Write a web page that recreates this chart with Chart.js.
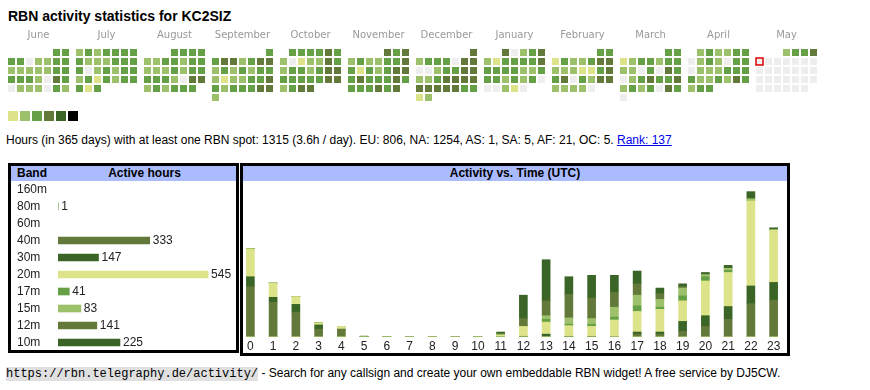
<!DOCTYPE html>
<html>
<head>
<meta charset="utf-8">
<script src="https://cdn.jsdelivr.net/npm/chart.js@4.4.1/dist/chart.umd.min.js"></script>
<style>
  body { margin: 0; background: #fff; font-family: Arial, "Liberation Sans", sans-serif; color: #000; }
  canvas, .box, .txt { position: absolute; }
  #title { left: 8px; top: 8px; font-size: 14px; font-weight: bold; line-height: 17px; }
  #summary { left: 6px; top: 133px; font-size: 12px; line-height: 14px; white-space: nowrap; }
  #summary a { color: #0000ee; }
  .box { border: 3px solid #000; }
  #bandBox { left: 8px; top: 163px; width: 225px; height: 184px; }
  #timeBox { left: 240px; top: 163px; width: 544px; height: 187px; }
  .hdr { position: absolute; left: 0; right: 0; top: 0; height: 15px; line-height: 15px;
         background: #aabbff; font-size: 12px; font-weight: bold; }
  .hdr span { position: absolute; top: 0; }
  #footer { left: 6px; top: 366px; font-size: 12px; line-height: 15px; white-space: nowrap; }
  #footer code { font-family: "Liberation Mono", "DejaVu Sans Mono", monospace; font-size: 12px; background: #e0e0e0; }
</style>
</head>
<body>
<div class="txt" id="title">RBN activity statistics for KC2SIZ</div>
<canvas id="cal" width="870" height="130" style="left:0;top:0"></canvas>
<div class="txt" id="summary">Hours (in 365 days) with at least one RBN spot: 1315 (3.6h / day). EU: 806, NA: 1254, AS: 1, SA: 5, AF: 21, OC: 5. <a href="#">Rank: 137</a></div>

<div class="box" id="bandBox">
  <div class="hdr"><span style="left:6px">Band</span><span style="left:42px;width:183px;text-align:center">Active hours</span></div>
</div>
<div class="box" id="timeBox">
  <div class="hdr" style="text-align:center">Activity vs. Time (UTC)</div>
</div>
<canvas id="bands" width="220" height="170" style="left:17px;top:181px"></canvas>
<canvas id="hours" width="546" height="174" style="left:239px;top:181px"></canvas>

<div class="txt" id="footer"><code>https://rbn.telegraphy.de/activity/</code> - Search for any callsign and create your own embeddable RBN widget! A free service by DJ5CW.</div>

<script>
// ---- calendar (one level per day, 0 = no spot) ----
const months = ['June', 'July', 'August', 'September', 'October', 'November',
                'December', 'January', 'February', 'March', 'April', 'May'];
const firstWeekday = [5, 0, 3, 6, 1, 4, 6, 2, 5, 5, 1, 3]; // Monday = 0
const dayLevels = [
  [3,3,3,3,0,2,2,3,3,2,2,2,2,2,3,3,3,3,3,2,0,4,3,0,2,2,2,0,3,2],
  [2,3,2,3,3,3,3,3,2,2,2,3,3,3,3,0,2,3,2,3,3,2,3,1,3,2,3,3,3,1,3],
  [3,3,3,3,2,2,3,3,2,3,3,2,2,2,3,2,3,3,3,3,3,2,0,4,4,2,3,2,3,3,3],
  [3,3,4,4,2,3,4,4,2,3,2,3,2,3,3,2,1,2,2,3,3,4,3,2,3,3,3,4,4,2],
  [3,3,3,3,4,3,2,0,1,2,2,4,3,2,3,3,2,3,4,4,3,3,3,3,3,4,4,2,3,4,4],
  [4,3,4,2,3,2,2,3,3,4,3,1,3,2,3,4,4,3,4,3,3,3,4,3,3,3,3,4,3,4],
  [4,2,3,3,3,0,4,4,0,0,2,3,3,4,4,2,2,3,4,4,4,4,4,4,4,4,4,3,3,1,2],
  [4,0,2,3,4,2,1,3,3,3,3,4,3,3,3,3,2,2,3,3,3,2,3,2,3,0,0,0,2,1,0],
  [3,3,1,3,2,2,3,4,4,2,2,2,1,1,3,4,3,4,0,3,2,4,4,2,2,2,2,0],
  [3,3,1,2,3,3,2,3,3,2,2,0,3,0,4,3,0,2,3,4,3,3,4,2,3,2,3,0,4,3,0],
  [2,3,2,2,3,3,0,2,3,2,0,3,3,0,2,2,2,3,3,3,3,2,2,3,2,4,3,2,3,3],
  [2,3,3,4,0,0,0,0,0,0,0,0,0,0,0,0,0,0,0,0,0,0,0,0,0,0,0,0,0,0,0]
];
const todayMonth = 11;
const todayDay = 5;
const legendLevels = [1, 2, 3, 4, 5, 6];

// ---- bands ----
const bands = ['160m', '80m', '60m', '40m', '30m', '20m', '17m', '15m', '12m', '10m'];
const bandHours = [0, 1, 0, 333, 147, 545, 41, 83, 141, 225];

// ---- activity per UTC hour, per band ----
const utcHours = ['0','1','2','3','4','5','6','7','8','9','10','11','12','13','14','15','16','17','18','19','20','21','22','23'];
const h160m = [0,0,0,0,0,0,0,0,0,0,0,0,0,0,0,0,0,0,0,0,0,0,0,0];
const h80m  = [0,0,0,0,0,1,0,0,0,0,0,0,0,0,0,0,0,0,0,0,0,0,0,0];
const h60m  = [0,0,0,0,0,0,0,0,0,0,0,0,0,0,0,0,0,0,0,0,0,0,0,0];
const h40m  = [71,49,35,11,11,0,0,0,0,0,0,0,0,1,0,0,0,4,4,8,15,25,47,52];
const h30m  = [14,7,11,6,0,0,0,0,0,0,0,0,1,3,1,1,0,3,3,14,15,18,25,25];
const h20m  = [39,20,11,3,4,0,0,0,0,0,0,3,14,17,15,14,24,29,32,29,49,48,120,74];
const h17m  = [0,0,0,0,0,0,0,0,0,0,0,1,0,4,2,3,4,8,3,7,6,3,0,0];
const h15m  = [1,0,0,0,0,0,0,0,0,0,0,0,0,5,9,8,14,15,11,11,3,3,3,0];
const h12m  = [0,0,0,0,0,0,0,0,0,0,0,0,11,21,33,29,21,16,8,2,0,0,0,0];
const h10m  = [0,0,0,0,0,0,0,0,0,0,0,3,33,58,25,32,24,18,8,4,3,4,10,3];
const hourly = [h160m, h80m, h60m, h40m, h30m, h20m, h17m, h15m, h12m, h10m];

// ---- styles ----
const levelColors = ['#eeeeee', '#dce389', '#9dc16b', '#66a046', '#63793a', '#3a6526', '#000000'];
const bandColors = ['#dce389', '#66a046', '#9dc16b', '#63793a', '#3a6526',
                    '#dce389', '#66a046', '#9dc16b', '#63793a', '#3a6526'];
const textColor = '#222';

Chart.defaults.font.family = 'Arial, "Liberation Sans", sans-serif';
Chart.defaults.animation = false;
Chart.defaults.plugins.legend.display = false;
Chart.defaults.plugins.tooltip.enabled = false;

// calendar geometry: 9px per day column / week row, 5px gap between months
const PITCH = 9;
const MONTH_STEP = (7 * PITCH + 5) / PITCH;
const CELL_X0 = 11.5, CELL_Y0 = 52.5, AXIS_H = 42, CAL_W = 870, CAL_H = 130;

const cells = [];
dayLevels.forEach((levels, m) => {
  levels.forEach((lv, d) => {
    const pos = firstWeekday[m] + d;
    const future = m === todayMonth && d + 1 > todayDay;
    cells.push({
      x: m * MONTH_STEP + (pos % 7),
      y: Math.floor(pos / 7),
      level: future ? 0 : lv,
      today: m === todayMonth && d + 1 === todayDay
    });
  });
});
const legendCells = legendLevels.map((lv, i) => ({
  x: (13 + 12 * i - CELL_X0) / PITCH,
  y: (116 - CELL_Y0) / PITCH,
  level: lv
}));

const yMin = (AXIS_H - CELL_Y0) / PITCH;
const xMin = -CELL_X0 / PITCH;

new Chart(document.getElementById('cal'), {
  type: 'scatter',
  data: {
    datasets: [{
      data: cells,
      pointStyle: 'rect',
      pointRadius: 7 / Math.SQRT2,
      pointBackgroundColor: c => levelColors[c.raw.level],
      pointBorderColor: c => c.raw.today ? '#e00000' : 'rgba(0,0,0,0)',
      pointBorderWidth: c => c.raw.today ? 1.5 : 0
    }, {
      data: legendCells,
      pointStyle: 'rect',
      pointRadius: 10 / Math.SQRT2,
      pointBackgroundColor: c => levelColors[c.raw.level],
      pointBorderWidth: 0
    }]
  },
  options: {
    responsive: false,
    layout: { padding: 0, autoPadding: false },
    scales: {
      x: {
        type: 'linear', position: 'top',
        min: xMin, max: xMin + CAL_W / PITCH,
        grid: { display: false, drawTicks: false }, border: { display: false },
        afterBuildTicks: s => { s.ticks = months.map((_, m) => ({ value: m * MONTH_STEP + 3 })); },
        afterFit: s => { s.height = AXIS_H; s.paddingLeft = 0; s.paddingRight = 0; },
        ticks: {
          autoSkip: false, maxRotation: 0, padding: 1,
          color: '#999', font: { family: '"DejaVu Sans", sans-serif', size: 10 },
          callback: (v, i) => months[i]
        }
      },
      y: {
        type: 'linear', display: false, reverse: true,
        min: yMin, max: yMin + (CAL_H - AXIS_H) / PITCH
      }
    }
  }
});

// ---- active hours per band ----
new Chart(document.getElementById('bands'), {
  type: 'bar',
  data: {
    labels: bands,
    datasets: [{ data: bandHours.map(v => v || null), backgroundColor: bandColors, barThickness: 7 }]
  },
  options: {
    indexAxis: 'y',
    responsive: false,
    layout: { padding: 0, autoPadding: false },
    scales: {
      x: { display: false, min: 0, max: 650 },
      y: {
        grid: { display: false, drawTicks: false }, border: { display: false },
        afterFit: s => { s.width = 41; s.paddingTop = 0; s.paddingBottom = 0; },
        ticks: { autoSkip: false, crossAlign: 'far', padding: 0, color: textColor, font: { size: 12 } }
      }
    }
  },
  plugins: [{
    id: 'values',
    afterDatasetsDraw(chart) {
      const ctx = chart.ctx;
      ctx.save();
      ctx.font = '12px Arial, "Liberation Sans", sans-serif';
      ctx.fillStyle = textColor;
      ctx.textBaseline = 'middle';
      chart.getDatasetMeta(0).data.forEach((bar, i) => {
        if (bandHours[i] > 0) ctx.fillText(String(bandHours[i]), bar.x + 3, bar.y + 0.5);
      });
      ctx.restore();
    }
  }]
});

// ---- activity vs. time ----
new Chart(document.getElementById('hours'), {
  type: 'bar',
  data: {
    labels: utcHours,
    datasets: bands.map((b, i) => ({
      label: b, data: hourly[i], backgroundColor: bandColors[i], barThickness: 8
    }))
  },
  options: {
    responsive: false,
    layout: { padding: 0, autoPadding: false },
    scales: {
      x: {
        stacked: true,
        grid: { display: false, drawTicks: false }, border: { display: false },
        afterFit: s => { s.height = 18; s.paddingLeft = 0; s.paddingRight = 0; },
        ticks: { autoSkip: false, maxRotation: 0, padding: 2, color: textColor, font: { size: 12 } }
      },
      y: { stacked: true, display: false, min: 0, max: 220 }
    }
  }
});
</script>
</body>
</html>
